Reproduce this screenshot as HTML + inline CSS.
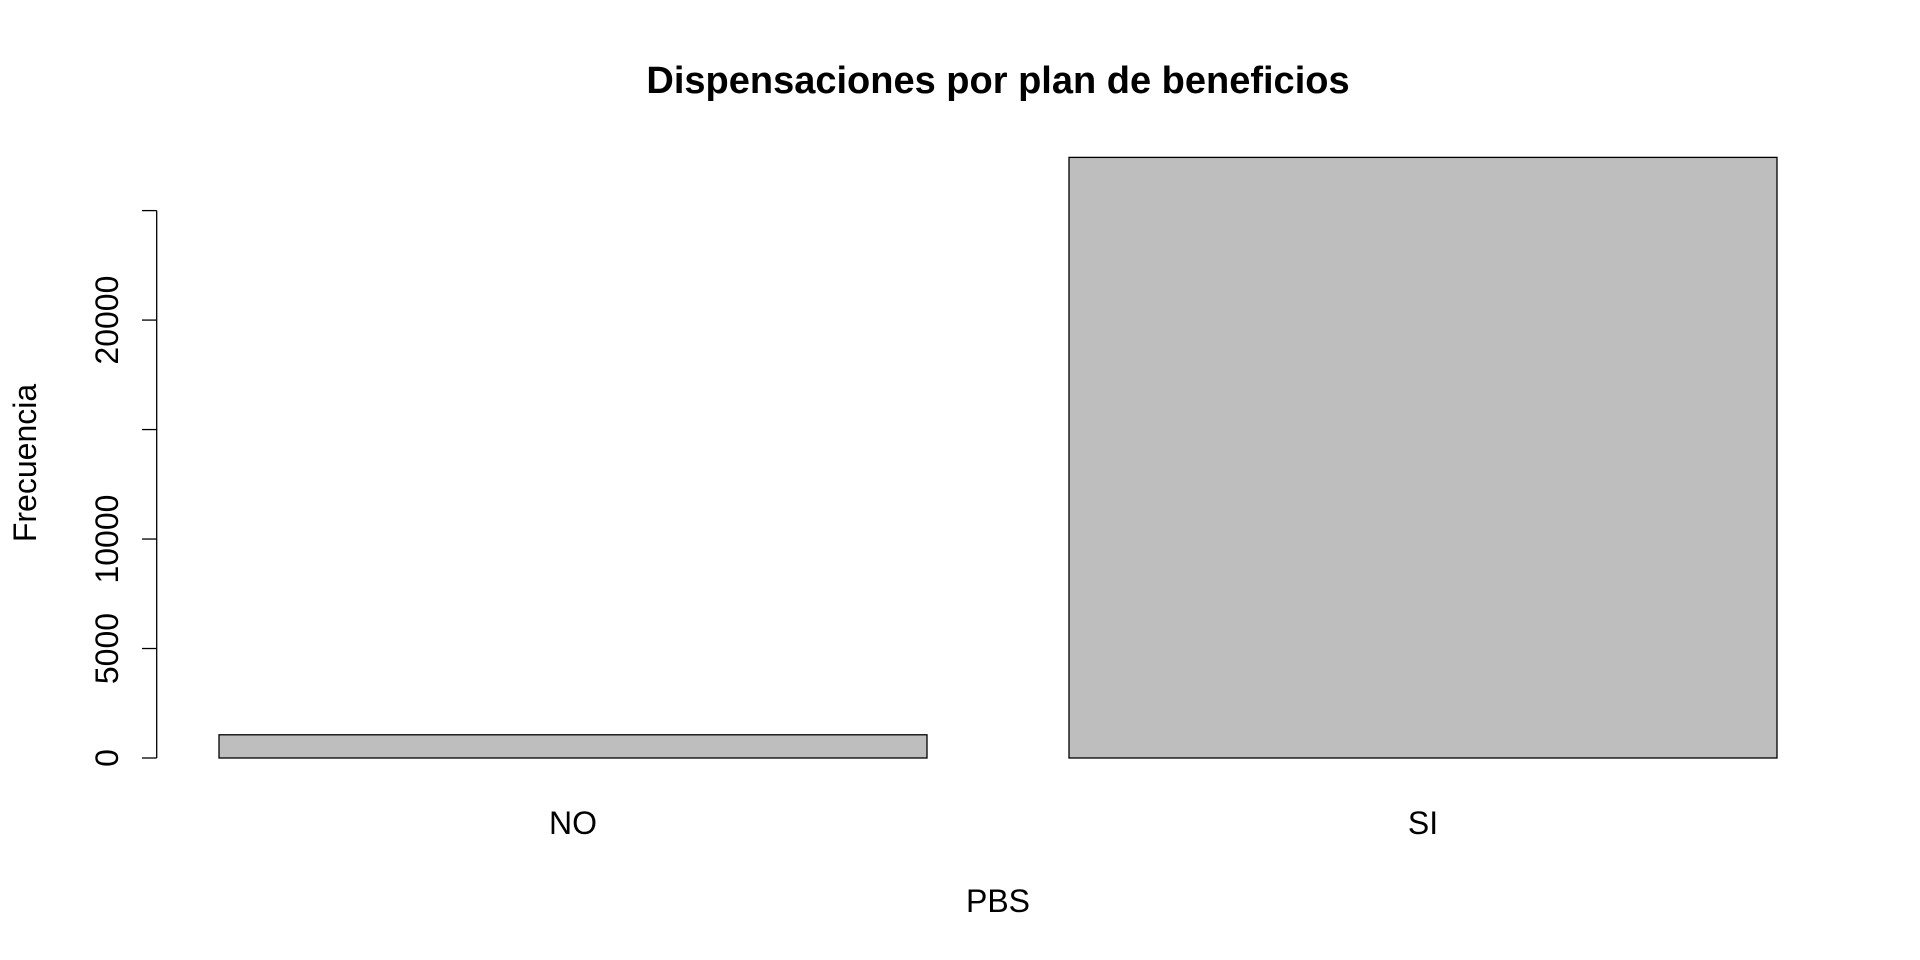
<!DOCTYPE html>
<html><head><meta charset="utf-8"><style>
html,body{margin:0;padding:0;background:#fff;}
svg{display:block;font-family:"Liberation Sans",Arial,sans-serif;}
</style></head><body>
<svg id="chart" width="1920" height="960" viewBox="0 0 1920 960" xmlns="http://www.w3.org/2000/svg">
<rect width="1920" height="960" fill="#fff"/>
<text x="998" y="93" text-anchor="middle" font-size="38" font-weight="bold">Dispensaciones por plan de beneficios</text>
<text x="998" y="912" text-anchor="middle" font-size="32">PBS</text>
<text x="36" y="463" text-anchor="middle" font-size="32" transform="rotate(-90 36 463)">Frecuencia</text>
<g id="bars"></g>
<g id="yaxis"></g>
<g id="xlabels"></g>
</svg>
<script>
const categories = ["NO", "SI"];
const counts = [1060, 27430];
const yTicks = [0, 5000, 10000, 15000, 20000, 25000];
const yTickLabels = ["0", "5000", "10000", "", "20000", ""];

const ns = "http://www.w3.org/2000/svg";
const y0 = 758, yPerUnit = (758 - 210.6) / 25000;
function yScale(v){ return y0 - v * yPerUnit; }
const barLeft0 = 219, barW = 708, barStep = 850;
function xScale(i){ return barLeft0 + i * barStep; }

const bars = document.getElementById("bars");
categories.forEach((c, i) => {
  const r = document.createElementNS(ns, "rect");
  
  
  r.setAttribute("x", xScale(i));
  r.setAttribute("y", yScale(counts[i]));
  r.setAttribute("width", barW);
  r.setAttribute("height", y0 - yScale(counts[i]));
  r.setAttribute("fill", "#bebebe");
  r.setAttribute("stroke", "#000");
  r.setAttribute("stroke-width", "1.3");
  bars.appendChild(r);
  const t = document.createElementNS(ns, "text");
  
  
  t.setAttribute("x", xScale(i) + barW / 2);
  t.setAttribute("y", 834);
  t.setAttribute("text-anchor", "middle");
  t.setAttribute("font-size", "32");
  t.textContent = c;
  document.getElementById("xlabels").appendChild(t);
});

const ya = document.getElementById("yaxis");
const axisX = 156.7;
const line = document.createElementNS(ns, "line");


line.setAttribute("x1", axisX); line.setAttribute("x2", axisX);
line.setAttribute("y1", yScale(yTicks[0])); line.setAttribute("y2", yScale(yTicks[yTicks.length-1]));
line.setAttribute("stroke", "#000"); line.setAttribute("stroke-width", "1.3");
ya.appendChild(line);
yTicks.forEach((v, i) => {
  const tk = document.createElementNS(ns, "line");
  
  
  tk.setAttribute("x1", axisX); tk.setAttribute("x2", axisX - 14.7);
  tk.setAttribute("y1", yScale(v)); tk.setAttribute("y2", yScale(v));
  tk.setAttribute("stroke", "#000"); tk.setAttribute("stroke-width", "1.3");
  ya.appendChild(tk);
  if (yTickLabels[i]) {
    const t = document.createElementNS(ns, "text");
    
    
    const tx = 118, ty = yScale(v);
    t.setAttribute("x", tx); t.setAttribute("y", ty);
    t.setAttribute("text-anchor", "middle");
    t.setAttribute("font-size", "32");
    t.setAttribute("transform", "rotate(-90 " + tx + " " + ty + ")");
    t.textContent = yTickLabels[i];
    ya.appendChild(t);
  }
});
</script>
</body></html>
